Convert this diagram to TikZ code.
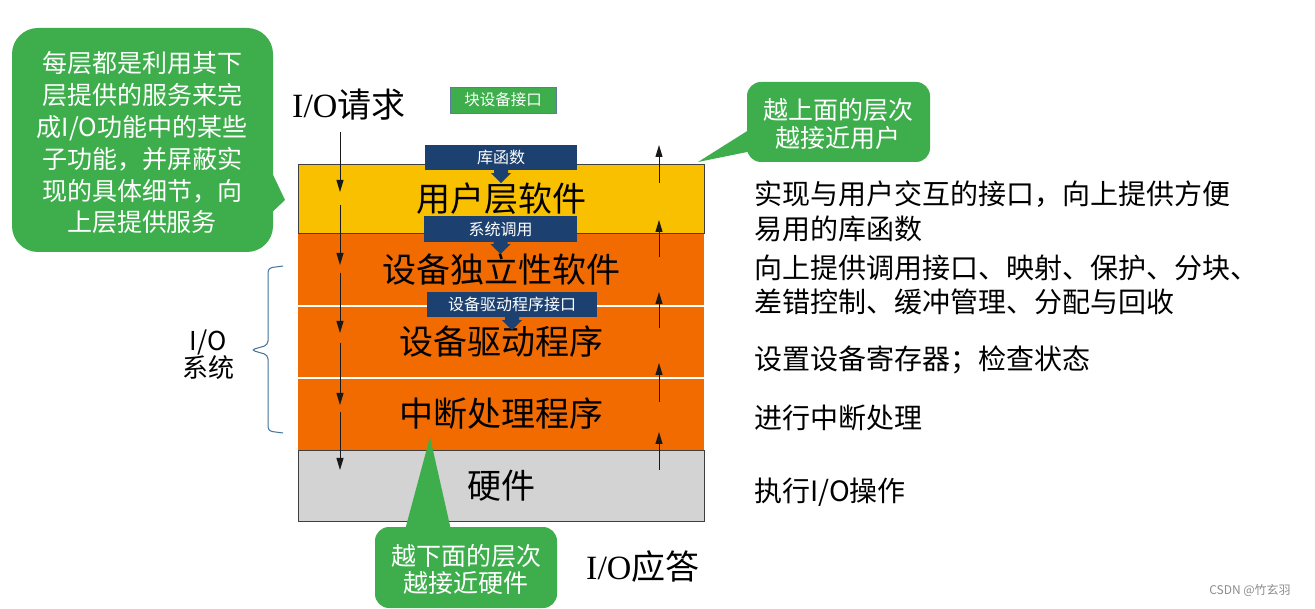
\documentclass[tikz,border=0pt]{standalone}
\usepackage{fontspec}
\setmainfont{Noto Sans CJK SC}
\newfontfamily\serifio{Liberation Serif}
\usetikzlibrary{arrows.meta}
\definecolor{ylw}{HTML}{F9C000}
\definecolor{org}{HTML}{F26B00}
\definecolor{hwgray}{HTML}{D3D3D3}
\definecolor{grn}{HTML}{3DAE4B}
\definecolor{navy}{HTML}{1C4170}
\definecolor{bracec}{HTML}{41719C}
\definecolor{edge}{HTML}{3F3F3F}
\begin{document}
\begin{tikzpicture}[x=1pt,y=-1pt,
 layer/.style={minimum width=406pt, inner sep=0pt, font=\fontsize{34}{38}\selectfont},
 tag/.style={fill=navy, text=white, minimum height=25pt, inner sep=0pt, font=\fontsize{16}{18}\selectfont},
 desc/.style={anchor=west, inner sep=0pt, align=left, font=\fontsize{28}{34.5}\selectfont},
 bubble/.style={text=white, align=center, inner sep=0pt},
 flow/.style={-{Triangle[length=12pt,width=7pt]}, line width=1pt, black!90},
 big/.style={anchor=west, inner sep=0pt, font=\fontsize{34}{38}\selectfont},
]
\useasboundingbox (0,0) rectangle (1315,609);
\fill[white] (0,0) rectangle (1315,609);

% layers
\node[layer, fill=org, minimum height=73pt] (L2) at (501,269.5) {设备独立性软件};
\node[layer, fill=org, minimum height=72pt] (L3) at (501,342) {设备驱动程序};
\node[layer, fill=org, minimum height=72pt] (L4) at (501,414) {中断处理程序};
\draw[white, line width=1.5pt] (L2.south west) -- (L2.south east);
\draw[white, line width=1.5pt] (L3.south west) -- (L3.south east);
\node[layer, fill=ylw, draw=edge, line width=0.8pt, minimum height=69pt] (L1) at (501,198.5) {用户层软件};
\node[layer, fill=hwgray, draw=edge, line width=0.8pt, minimum height=71pt] (L5) at (501,485.5) {硬件};

% flow arrows
\foreach \s/\e [count=\i] in {132/192,205/265,273/333,343/405,412/470}{
  \coordinate (ds\i) at (340,\s); \coordinate (de\i) at (340,\e);
  \draw[flow] (ds\i) -- (de\i);
}
\foreach \s/\e [count=\i] in {470/432,402/363,328/292,257/220,183/145}{
  \coordinate (us\i) at (659,\s); \coordinate (ue\i) at (659,\e);
  \draw[flow] (us\i) -- (ue\i);
}

% tags
\node[tag, minimum width=152pt] (T1) at (501,157.5) {库函数};
\fill[navy] (T1.south) ++(-7,0) -- ++(0,3) -- ++(-3,0) -- ++(10,10) -- ++(10,-10) -- ++(-3,0) -- ++(0,-3) -- cycle;
\node[tag, minimum width=153pt, minimum height=26pt] (T2) at (500.5,229) {系统调用};
\fill[navy] (T2.south) ++(-7,0) -- ++(0,2) -- ++(-3,0) -- ++(10,10) -- ++(10,-10) -- ++(-3,0) -- ++(0,-2) -- cycle;
\node[tag, minimum width=170pt] (T3) at (512,304.5) {设备驱动程序接口};
\fill[navy] (T3.south) ++(-7,0) -- ++(0,3) -- ++(-3,0) -- ++(10,10) -- ++(10,-10) -- ++(-3,0) -- ++(0,-3) -- cycle;

\node[fill=grn, draw=navy!70, line width=0.8pt, text=white, minimum width=106pt, minimum height=26pt, inner sep=0pt, font=\fontsize{15.5}{18}\selectfont] (BI) at (503,100) {块设备接口};

% callouts
\fill[grn, rounded corners=26pt] (12,28) rectangle (273,252);
\fill[grn] (266,160) -- (285,200) -- (266,218) -- cycle;
\node[bubble, font=\fontsize{25}{31.8}\selectfont] (CL) at (142,143) {每层都是利用其下\\层提供的服务来完\\成I/O功能中的某些\\子功能，并屏蔽实\\现的具体细节，向\\上层提供服务};

\fill[grn, rounded corners=14pt] (747,82) rectangle (930,162);
\fill[grn] (752,128) -- (698,162) -- (752,151) -- cycle;
\node[bubble, font=\fontsize{25}{28}\selectfont] (CR) at (838,124) {越上面的层次\\越接近用户};

\fill[grn, rounded corners=14pt] (375,527) rectangle (557,608);
\fill[grn] (405,530) -- (430,437) -- (451,530) -- cycle;
\node[bubble, font=\fontsize{25}{27}\selectfont] (CB) at (466,569) {越下面的层次\\越接近硬件};

% brace
\draw[bracec, line width=1pt, rounded corners=4pt] (283,266) -- (268,268) -- (268,345) -- (251,350) -- (268,355) -- (268,431) -- (283,433);
\node[align=center, inner sep=0pt, font=\fontsize{26}{27}\selectfont] (IOS) at (208,355) {I/O\\系统};

% io labels
\node[big] (REQ) at (292,105) {{\serifio I/O}请求};
\node[big] (ANS) at (586,567) {{\serifio I/O}应答};

% descriptions
\node[desc] (D1) at (754,211.5) {实现与用户交互的接口，向上提供方便\\易用的库函数};
\node[desc] (D2) at (754,285) {向上提供调用接口、映射、保护、分块、\\差错控制、缓冲管理、分配与回收};
\node[desc] (D3) at (754,360) {设置设备寄存器；检查状态};
\node[desc] (D4) at (754,418) {进行中断处理};
\node[desc] (D5) at (754,492) {执行I/O操作};

\node[inner sep=0pt, text=black!45, font=\fontsize{12}{14}\selectfont] (WM) at (1250,590) {CSDN @竹玄羽};
\end{tikzpicture}
\end{document}
